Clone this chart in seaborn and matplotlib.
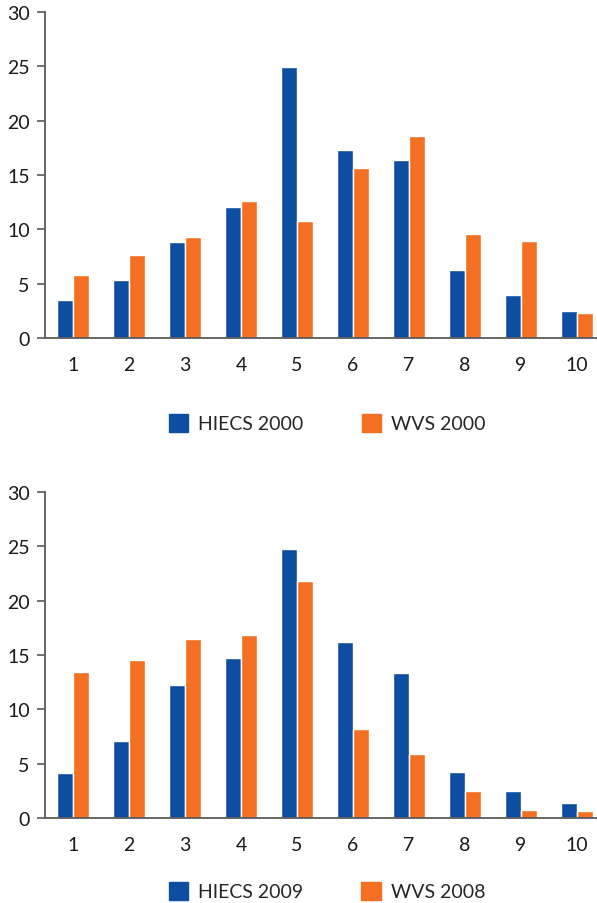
import numpy as np
import pandas as pd
import seaborn as sns
import matplotlib.pyplot as plt

# Values
categories = ["1", "2", "3", "4", "5", "6", "7", "8", "9", "10"]

hiecs_2000 = [3.5, 5.3, 8.8, 12.1, 24.9, 17.3, 16.4, 6.3, 4.0, 2.5]
wvs_2000 = [5.8, 7.6, 9.3, 12.6, 10.8, 15.6, 18.6, 9.6, 8.9, 2.3]

hiecs_2009 = [4.1, 7.1, 12.2, 14.7, 24.8, 16.2, 13.3, 4.2, 2.5, 1.4]
wvs_2008 = [13.4, 14.5, 16.5, 16.8, 21.8, 8.2, 5.9, 2.5, 0.7, 0.6]

blue = "#0d4ea0"
orange = "#f36f21"
axis_grey = "#5a5a5a"

sns.set_style("white")
plt.rcParams["font.family"] = ["Lato", "DejaVu Sans"]


def draw_panel(ax, first, second, names, legend_y, fig):
    df = pd.DataFrame({
        "cat": categories * 2,
        "value": first + second,
        "series": [names[0]] * len(categories) + [names[1]] * len(categories),
    })
    sns.barplot(data=df, x="cat", y="value", hue="series", order=categories,
                hue_order=names, palette=[blue, orange], width=0.57,
                saturation=1, ax=ax, legend=False)
    ax.set_xlim(-0.5, 9.5)
    ax.set_ylim(0, 30)
    ax.set_yticks(range(0, 31, 5))
    ax.set_xticks(np.arange(-0.5, 10, 1), minor=True)
    ax.tick_params(axis="x", which="major", length=0, pad=13, labelsize=14,
                   colors="#1a1a1a")
    ax.tick_params(axis="x", which="minor", length=6, width=1.2,
                   color=axis_grey, direction="out")
    ax.tick_params(axis="y", length=6, width=1.2, color=axis_grey, pad=5,
                   labelsize=14, labelcolor="#1a1a1a", left=True)
    ax.set_xlabel("")
    ax.set_ylabel("")
    sns.despine(ax=ax)
    for side in ("left", "bottom"):
        ax.spines[side].set_color(axis_grey)
        ax.spines[side].set_linewidth(1.3)

    handles = [plt.Rectangle((0, 0), 1, 1, color=blue),
               plt.Rectangle((0, 0), 1, 1, color=orange)]
    fig.legend(handles, names, loc="center", bbox_to_anchor=(327 / 597, legend_y),
               ncol=2, frameon=False, fontsize=14, handlelength=1.0,
               handleheight=1.1, handletextpad=0.5, columnspacing=3.0,
               borderaxespad=0, borderpad=0)


fig = plt.figure(figsize=(5.97, 9.04), dpi=100)
ax_top = fig.add_axes([45 / 597, 1 - 339 / 904, 560 / 597, 326 / 904])
ax_bot = fig.add_axes([45 / 597, 1 - 819 / 904, 560 / 597, 326 / 904])

draw_panel(ax_top, hiecs_2000, wvs_2000, ["HIECS 2000", "WVS 2000"], 1 - 424 / 904, fig)
draw_panel(ax_bot, hiecs_2009, wvs_2008, ["HIECS 2009", "WVS 2008"], 1 - 892 / 904, fig)

fig.savefig("out.png", dpi=100)
